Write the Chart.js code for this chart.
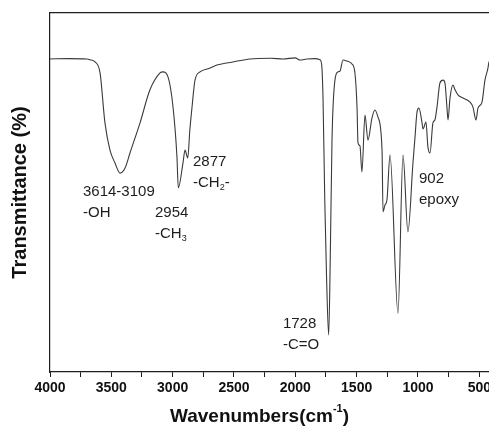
<!DOCTYPE html>
<html>
<head>
<meta charset="utf-8">
<script src="https://cdn.jsdelivr.net/npm/chart.js@4.4.0/dist/chart.umd.min.js"></script>
<style>
	html, body { margin: 0; padding: 0; background: #fff; overflow: hidden; }
	#wrap { position: relative; width: 489px; height: 429px; }
</style>
</head>
<body>
<div id="wrap"><canvas id="ftir-chart"></canvas></div>
<script>
// FTIR spectrum (wavenumber cm-1 / transmittance, arbitrary %)
const wavenumbers = [
	4000, 3850, 3700, 3674, 3633, 3592, 3552, 3511, 3470, 3429,
	3388, 3348, 3266, 3185, 3103, 3079, 3038, 2997, 2965, 2954,
	2916, 2899, 2877, 2860, 2842, 2818, 2777, 2700, 2639, 2500,
	2370, 2200, 2101, 2000, 1962, 1905, 1840, 1799, 1785, 1774,
	1760, 1745, 1728, 1715, 1701, 1677, 1652, 1636, 1611, 1579,
	1538, 1514, 1497, 1489, 1473, 1457, 1432, 1408, 1375, 1351,
	1326, 1293, 1285, 1269, 1253, 1228, 1163, 1122, 1082, 1041,
	1024, 1008, 992, 967, 959, 935, 919, 902, 878, 862,
	845, 821, 796, 780, 764, 755, 739, 715, 698, 674,
	633, 576, 552, 527, 511, 478, 454, 430, 421
];
const transmittance = [
	87.2, 87.3, 87.2, 87.0, 86.4, 83.3, 69.4, 61.8, 58.2, 55.4,
	56.8, 61.0, 69.4, 78.6, 83.3, 83.6, 82.2, 73.8, 59.9, 51.3,
	58.2, 61.8, 59.6, 67.4, 73.8, 81.3, 83.6, 84.6, 85.5, 86.4,
	87.2, 87.4, 87.2, 87.5, 86.9, 87.2, 87.3, 87.0, 85.5, 76.0,
	48.0, 26.0, 10.3, 32.0, 64.6, 81.3, 83.6, 83.8, 86.9, 86.6,
	85.8, 83.3, 73.8, 63.8, 63.0, 55.7, 71.6, 64.6, 70.8, 73.0,
	71.0, 61.8, 44.6, 46.5, 47.9, 60.4, 16.4, 60.4, 39.0, 58.2,
	65.5, 72.4, 73.5, 69.4, 67.7, 69.6, 62.7, 61.0, 69.4, 70.2,
	73.8, 80.5, 81.3, 80.5, 73.8, 70.2, 76.3, 79.9, 78.6, 77.2,
	76.3, 75.2, 73.8, 70.2, 73.5, 75.2, 81.3, 84.6, 86.5
];

// peak annotations: anchor (wavenumber, transmittance) of first text line; '_' marks a subscript char
const peakAt = [3731, 3144, 2834, 2101, 992];
const peakLevel = [50.1, 44.4, 58.4, 13.4, 53.8];
const peakText = [
	['3614-3109', '-OH'],
	['2954', '-CH_3'],
	['2877', '-CH_2-'],
	['1728', '-C=O'],
	['902', 'epoxy']
];

const xMin = 421, xMax = 4000;
const FONT = "'Liberation Sans', Arial, sans-serif";
const INK = '#1e1e1e';

const drawRich = (ctx, text, x, y, size) => {
	// plain text with single-char subscripts marked by '_'
	let cx = x;
	for (let i = 0; i < text.length; i++) {
		if (text[i] === '_' && i + 1 < text.length) {
			ctx.font = `${Math.round(size * 0.62)}px ${FONT}`;
			ctx.fillText(text[i + 1], cx, y + size * 0.3);
			cx += ctx.measureText(text[i + 1]).width;
			i++;
		} else {
			ctx.font = `${size}px ${FONT}`;
			ctx.fillText(text[i], cx, y);
			cx += ctx.measureText(text[i]).width;
		}
	}
};

const annotations = {
	id: 'annotations',
	afterDraw(chart) {
		const {ctx, scales: {x, y}} = chart;
		ctx.save();
		ctx.fillStyle = INK;
		ctx.textAlign = 'left';
		ctx.textBaseline = 'middle';
		peakText.forEach((lines, i) => {
			const px = x.getPixelForValue(peakAt[i]);
			const py = y.getPixelForValue(peakLevel[i]);
			lines.forEach((line, j) => drawRich(ctx, line, px, py + j * 21, 15));
		});

		// x axis title with superscript
		const size = 19;
		const big = `bold ${size}px ${FONT}`;
		const small = `bold ${Math.round(size * 0.6)}px ${FONT}`;
		const main = 'Wavenumbers(cm', sup = '-1', close = ')';
		ctx.font = big;
		const w1 = ctx.measureText(main).width, w3 = ctx.measureText(close).width;
		ctx.font = small;
		const w2 = ctx.measureText(sup).width;
		const cy = x.bottom - 12;
		let cx = (x.left + x.right) / 2 - 10 - (w1 + w2 + w3) / 2;
		ctx.fillStyle = '#111';
		ctx.font = big;
		ctx.fillText(main, cx, cy);
		cx += w1;
		ctx.font = small;
		ctx.fillText(sup, cx, cy - size * 0.42);
		cx += w2;
		ctx.font = big;
		ctx.fillText(close, cx, cy);
		ctx.restore();
	}
};

const points = wavenumbers.map((wn, i) => ({x: wn, y: transmittance[i]}));

new Chart(document.getElementById('ftir-chart'), {
	type: 'line',
	data: {
		datasets: [{
			data: points,
			borderColor: '#3a3a3a',
			borderWidth: 1.1,
			pointRadius: 0,
			cubicInterpolationMode: 'monotone',
			fill: false
		}]
	},
	options: {
		responsive: true,
		maintainAspectRatio: false,
		animation: false,
		layout: {padding: {top: 13, right: 0, bottom: 0, left: 0}},
		plugins: {legend: {display: false}, tooltip: {enabled: false}},
		scales: {
			x: {
				type: 'linear',
				reverse: true,
				min: xMin,
				max: xMax,
				afterFit: s => { s.paddingRight = 0; s.height = 57; },
				grid: {drawOnChartArea: false, drawTicks: true, tickLength: 5, tickColor: INK},
				border: {color: INK, width: 1.2},
				ticks: {
					stepSize: 250,
					includeBounds: false,
					autoSkip: false,
					maxRotation: 0,
					padding: 3,
					color: '#111',
					font: {family: FONT, size: 14, weight: 'bold'},
					callback: v => (v % 500 === 0 ? String(v) : '')
				}
			},
			x2: {
				type: 'linear',
				position: 'top',
				reverse: true,
				min: xMin,
				max: xMax,
				grid: {drawOnChartArea: false, drawTicks: false},
				border: {color: INK, width: 1.2},
				ticks: {display: false}
			},
			y: {
				min: 0,
				max: 100,
				afterFit: s => { s.width = 50; },
				grid: {drawOnChartArea: false, drawTicks: false},
				border: {color: INK, width: 1.2},
				ticks: {display: false},
				title: {
					display: true,
					text: 'Transmittance (%)',
					color: '#111',
					font: {family: FONT, size: 20, weight: 'bold'},
					padding: {top: 8, bottom: 0}
				}
			}
		}
	},
	plugins: [annotations]
});
</script>
</body>
</html>
